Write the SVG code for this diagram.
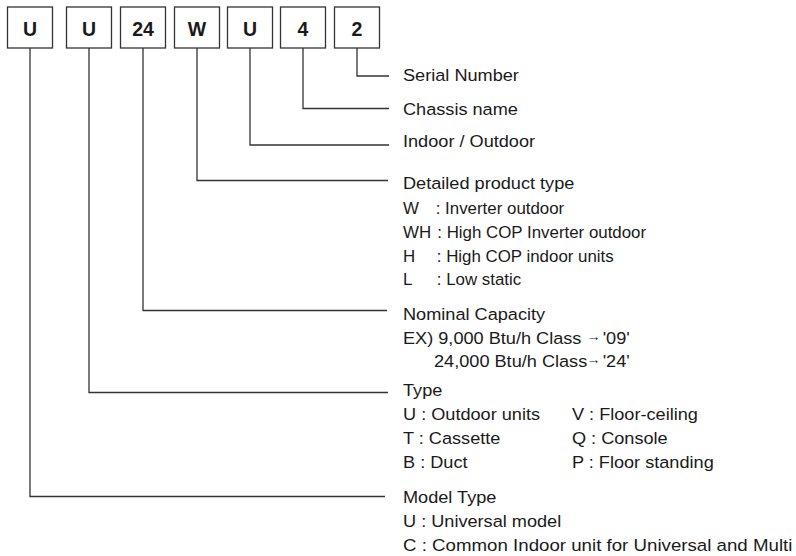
<svg xmlns="http://www.w3.org/2000/svg" width="796" height="556" viewBox="0 0 796 556">
<style>
.box{fill:#fff;stroke:#333;stroke-width:1.3}
.bt{font-family:"Liberation Sans",Arial,sans-serif;font-weight:bold;font-size:19.5px;fill:#1a1a1a;text-anchor:middle}
.conn{fill:none;stroke:#333;stroke-width:1.3}
.lt{font-family:"Liberation Sans",Arial,sans-serif;font-size:16.5px;fill:#1a1a1a}
.arr{font-size:13px}
</style>
<rect width="796" height="556" fill="#fff"/>
<g id="connectors">
<polyline class="conn" points="357,48 357,76 389,76"/>
<polyline class="conn" points="303,48 303,108.5 389,108.5"/>
<polyline class="conn" points="250,48 250,145 389,145"/>
<polyline class="conn" points="197,48 197,180.5 388,180.5"/>
<polyline class="conn" points="143,48 143,310.5 387,310.5"/>
<polyline class="conn" points="89,48 89,392.5 388,392.5"/>
<polyline class="conn" points="30,48 30,496.5 385,496.5"/>
</g>
<g id="box1"><rect class="box" x="7.5" y="7" width="45" height="41"/><text class="bt" x="30" y="35.5">U</text></g>
<g id="box2"><rect class="box" x="66.5" y="7" width="45" height="41"/><text class="bt" x="89" y="35.5">U</text></g>
<g id="box3"><rect class="box" x="120.5" y="7" width="45" height="41"/><text class="bt" x="143" y="35.5">24</text></g>
<g id="box4"><rect class="box" x="174.5" y="7" width="45" height="41"/><text class="bt" x="197" y="35.5">W</text></g>
<g id="box5"><rect class="box" x="227.5" y="7" width="45" height="41"/><text class="bt" x="250" y="35.5">U</text></g>
<g id="box6"><rect class="box" x="280.5" y="7" width="45" height="41"/><text class="bt" x="303" y="35.5">4</text></g>
<g id="box7"><rect class="box" x="334.5" y="7" width="45" height="41"/><text class="bt" x="357" y="35.5">2</text></g>
<g class="lt" transform="translate(403 0) scale(1.1 1)">
<g id="label-serial"><text x="0" y="80.7">Serial Number</text></g>
<g id="label-chassis"><text x="0" y="115.5">Chassis name</text></g>
<g id="label-indoor"><text x="0" y="147.5">Indoor / Outdoor</text></g>
<g id="label-detailed">
<text x="0" y="189">Detailed product type</text>
<g transform="scale(0.93 1)">
<text x="0" y="214.5">W<tspan x="32">: Inverter outdoor</tspan></text>
<text x="0" y="238.5">WH<tspan x="33.5">: High COP Inverter outdoor</tspan></text>
<text x="0" y="262.5">H<tspan x="33">: High COP indoor units</tspan></text>
<text x="0" y="285.5">L<tspan x="33">: Low static</tspan></text>
</g>
</g>
<g id="label-capacity">
<text x="0" y="320">Nominal Capacity</text>
<text x="0" y="344">EX) 9,000 Btu/h Class<tspan class="arr" x="167" dy="-3">→</tspan><tspan x="181.5" dy="3">'09'</tspan></text>
<text x="28.2" y="367">24,000 Btu/h Class<tspan class="arr" x="167" dy="-3">→</tspan><tspan x="181.5" dy="3">'24'</tspan></text>
</g>
<g id="label-type">
<text x="0" y="396.5">Type</text>
<text x="0" y="420">U : Outdoor units</text>
<text x="153.6" y="420">V : Floor-ceiling</text>
<text x="0" y="444.5">T : Cassette</text>
<text x="153.6" y="444.5">Q : Console</text>
<text x="0" y="468.5">B : Duct</text>
<text x="153.6" y="468.5">P : Floor standing</text>
</g>
<g id="label-model">
<text x="0" y="503">Model Type</text>
<text x="0" y="527.5">U : Universal model</text>
<text x="0" y="551.5" textLength="354" lengthAdjust="spacingAndGlyphs">C : Common Indoor unit for Universal and Multi</text>
</g>
</g>
</svg>
